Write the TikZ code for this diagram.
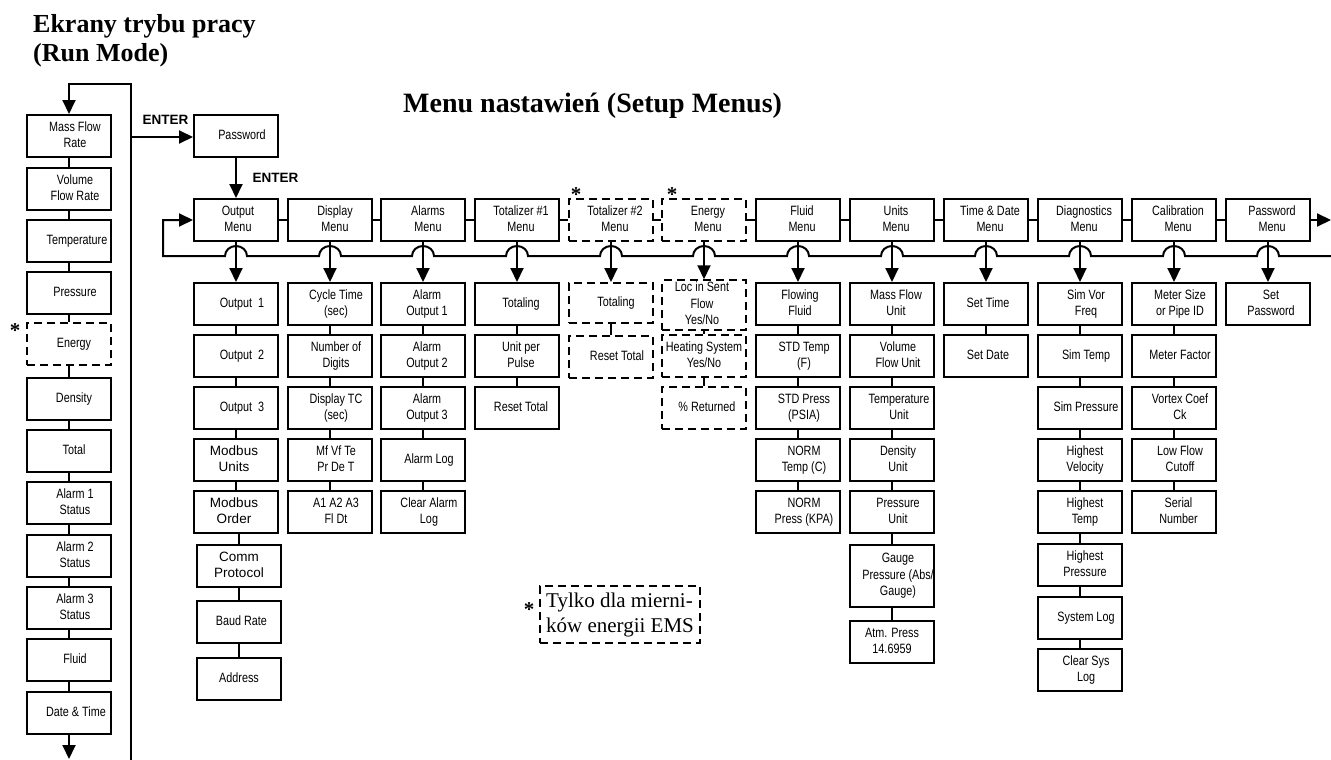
\documentclass[tikz,border=0pt]{standalone}
\usepackage{fontspec}
\setmainfont{Liberation Sans}
\newfontfamily\boxfont{Liberation Sans}[FakeStretch=0.8]
\newfontfamily\headfont{Liberation Serif}
\usetikzlibrary{arrows.meta}

% lines of a box label, set a little right of the box centre by default
\newcommand\celltext[2][12pt]{\hspace*{#1}\begin{tabular}{@{}c@{}}#2\end{tabular}}

\tikzset{
  box/.style={draw, line width=2pt, minimum width=84pt, minimum height=42pt,
    inner sep=0pt, font={\boxfont\fontsize{13.5}{16.5}\selectfont}},
  widebox/.style={box, font={\fontsize{13.5}{16.5}\selectfont}},
  dbox/.style={box, dash pattern=on 8pt off 5pt},
  conn/.style={line width=2pt},
  arr/.style={line width=2pt, -{Triangle[width=13pt,length=14pt]}},
  heading/.style={anchor=base west, inner sep=0pt, font={\headfont\bfseries\fontsize{26}{30}\selectfont}},
  keylabel/.style={inner sep=0pt, font={\bfseries\fontsize{13.5}{16}\selectfont}},
  starmark/.style={inner sep=0pt, font={\headfont\bfseries\fontsize{21}{21}\selectfont}},
}

\begin{document}
\begin{tikzpicture}[x=1pt,y=-1pt]
\useasboundingbox (0,0) rectangle (1331,760);

% headings
\node[heading] (h1) at (33,33) {Ekrany trybu pracy};
\node[heading] (h2) at (33,62) {(Run Mode)};
\node[heading, font={\headfont\bfseries\fontsize{28}{32}\selectfont}] (h3) at (403,112) {Menu nastawień (Setup Menus)};

% run mode screens
\node[box]  (r1)  at (69,136) {\celltext{Mass Flow\\Rate}};
\node[box]  (r2)  at (69,189) {\celltext{Volume\\Flow Rate}};
\node[box]  (r3)  at (69,241) {\celltext[16pt]{Temperature}};
\node[box]  (r4)  at (69,293) {\celltext{Pressure}};
\node[dbox] (r5)  at (69,344) {\celltext[10pt]{Energy}};
\node[box]  (r6)  at (69,399) {\celltext[10pt]{Density}};
\node[box]  (r7)  at (69,451) {\celltext[10pt]{Total}};
\node[box]  (r8)  at (69,503) {\celltext{Alarm 1\\Status}};
\node[box]  (r9)  at (69,556) {\celltext{Alarm 2\\Status}};
\node[box]  (r10) at (69,608) {\celltext{Alarm 3\\Status}};
\node[box]  (r11) at (69,660) {\celltext{Fluid}};
\node[box]  (r12) at (69,713) {\celltext[14pt]{Date \& Time}};
\foreach \a/\b in {r1/r2,r2/r3,r3/r4,r4/r5,r5/r6,r6/r7,r7/r8,r8/r9,r9/r10,r10/r11,r11/r12}
  \draw[conn] (\a.south) -- (\b.north);
\coordinate (rb) at (69,759);
\coordinate (rtop) at (131,84);
\coordinate (rbot) at (131,760);
\draw[arr] (r12.south) -- (rb);
\draw[arr] (rbot) -- (rtop) -- (rtop -| r1) -- (r1.north);

% password entry
\node[box] (pw) at (236,136) {\celltext{Password}};
\coordinate (pwin) at (131,137);
\draw[arr] (pwin) -- (pwin -| pw.west);
\node[keylabel] (en1) at (165.5,120) {ENTER};

% setup menus
\node[box]  (m1)  at (236,220)  {\celltext[4pt]{Output\\Menu}};
\node[box]  (m2)  at (330,220)  {\celltext[10pt]{Display\\Menu}};
\node[box]  (m3)  at (423,220)  {\celltext[10pt]{Alarms\\Menu}};
\node[box]  (m4)  at (517,220)  {\celltext[8pt]{Totalizer \#1\\Menu}};
\node[dbox] (m5)  at (611,220)  {\celltext[8pt]{Totalizer \#2\\Menu}};
\node[dbox] (m6)  at (704,220)  {\celltext[8pt]{Energy\\Menu}};
\node[box]  (m7)  at (798,220)  {\celltext[8pt]{Fluid\\Menu}};
\node[box]  (m8)  at (892,220)  {\celltext[8pt]{Units\\Menu}};
\node[box]  (m9)  at (986,220)  {\celltext[8pt]{Time \& Date\\Menu}};
\node[box]  (m10) at (1080,220) {\celltext[8pt]{Diagnostics\\Menu}};
\node[box]  (m11) at (1174,220) {\celltext[8pt]{Calibration\\Menu}};
\node[box]  (m12) at (1268,220) {\celltext[8pt]{Password\\Menu}};
\foreach \a/\b in {m1/m2,m2/m3,m3/m4,m4/m5,m5/m6,m6/m7,m7/m8,m8/m9,m9/m10,m10/m11,m11/m12}
  \draw[conn] (\a.east) -- (\b.west);
\draw[arr] (pw.south) -- (m1.north);
\node[keylabel] (en2) at (275.5,178) {ENTER};

\node[starmark] (st1) at (576,195) {*};
\node[starmark] (st2) at (672,195) {*};
\node[starmark] (st3) at (15,331) {*};

% loop back from the last menu to the first
\coordinate (outr) at (1331,220);
\draw[arr] (m12.east) -- (outr);
\draw[arr] (1331,256)
  \foreach \c in {1268,1174,1080,986,892,798,704,611,517,423,330,236} {
    -- (\c+11,256) arc[start angle=0, end angle=180, x radius=11pt, y radius=10pt]
  } -- (163,256) -- (163,220) -- (m1.west);

% output menu
\node[box]     (o1) at (236,304) {\celltext{Output\ \ 1}};
\node[box]     (o2) at (236,356) {\celltext{Output\ \ 2}};
\node[box]     (o3) at (236,408) {\celltext{Output\ \ 3}};
\node[widebox] (o4) at (236,460) {\celltext[-4pt]{Modbus\\Units}};
\node[widebox] (o5) at (236,512) {\celltext[-4pt]{Modbus\\Order}};
\node[widebox] (o6) at (239,566) {\celltext[0pt]{Comm\\Protocol}};
\node[box]     (o7) at (239,622) {\celltext[5pt]{Baud Rate}};
\node[box]     (o8) at (239,679) {\celltext[0pt]{Address}};

% display menu
\node[box] (d1) at (330,304) {\celltext{Cycle Time\\(sec)}};
\node[box] (d2) at (330,356) {\celltext{Number of\\Digits}};
\node[box] (d3) at (330,408) {\celltext{Display TC\\(sec)}};
\node[box] (d4) at (330,460) {\celltext{Mf Vf Te\\Pr De T}};
\node[box] (d5) at (330,512) {\celltext{A1 A2 A3\\Fl Dt}};

% alarms menu
\node[box] (a1) at (423,304) {\celltext[8pt]{Alarm\\Output 1}};
\node[box] (a2) at (423,356) {\celltext[8pt]{Alarm\\Output 2}};
\node[box] (a3) at (423,408) {\celltext[8pt]{Alarm\\Output 3}};
\node[box] (a4) at (423,460) {\celltext{Alarm Log}};
\node[box] (a5) at (423,512) {\celltext{Clear Alarm\\Log}};

% totalizer 1
\node[box] (t1) at (517,304) {\celltext[8pt]{Totaling}};
\node[box] (t2) at (517,356) {\celltext[8pt]{Unit per\\Pulse}};
\node[box] (t3) at (517,408) {\celltext[8pt]{Reset Total}};

% totalizer 2
\node[dbox, minimum height=40pt] (u1) at (611,303) {\celltext[10pt]{Totaling}};
\node[dbox] (u2) at (611,357) {\celltext{Reset Total}};

% energy menu
\node[dbox, minimum height=44pt] (e1) at (704,305) {\celltext[-4pt]{Loc in Sent\\Flow\\Yes/No}};
\node[dbox] (e2) at (704,356) {\celltext[0pt]{Heating System\\Yes/No}};
\node[dbox] (e3) at (704,408) {\celltext[6pt]{\% Returned}};

% fluid menu
\node[box] (f1) at (798,304) {\celltext[4pt]{Flowing\\Fluid}};
\node[box] (f2) at (798,356) {\celltext{STD Temp\\(F)}};
\node[box] (f3) at (798,408) {\celltext{STD Press\\(PSIA)}};
\node[box] (f4) at (798,460) {\celltext{NORM\\Temp (C)}};
\node[box] (f5) at (798,512) {\celltext{NORM\\Press (KPA)}};

% units menu
\node[box] (n1) at (892,304) {\celltext[8pt]{Mass Flow\\Unit}};
\node[box] (n2) at (892,356) {\celltext{Volume\\Flow Unit}};
\node[box] (n3) at (892,408) {\celltext[14pt]{Temperature\\Unit}};
\node[box] (n4) at (892,460) {\celltext{Density\\Unit}};
\node[box] (n5) at (892,512) {\celltext{Pressure\\Unit}};
\node[box, minimum height=62pt] (n6) at (892,576) {\celltext{Gauge\\Pressure (Abs/\\Gauge)}};
\node[box] (n7) at (892,642) {\celltext[0pt]{Atm. Press\\14.6959}};

% time and date menu
\node[box] (s1) at (986,304) {\celltext[4pt]{Set Time}};
\node[box] (s2) at (986,356) {\celltext[4pt]{Set Date}};

% diagnostics menu
\node[box] (g1) at (1080,304) {\celltext{Sim Vor\\Freq}};
\node[box] (g2) at (1080,356) {\celltext{Sim Temp}};
\node[box] (g3) at (1080,408) {\celltext{Sim Pressure}};
\node[box] (g4) at (1080,460) {\celltext[10pt]{Highest\\Velocity}};
\node[box] (g5) at (1080,512) {\celltext[10pt]{Highest\\Temp}};
\node[box] (g6) at (1080,565) {\celltext[10pt]{Highest\\Pressure}};
\node[box] (g7) at (1080,618) {\celltext{System Log}};
\node[box] (g8) at (1080,670) {\celltext{Clear Sys\\Log}};

% calibration menu
\node[box] (c1) at (1174,304) {\celltext{Meter Size\\or Pipe ID}};
\node[box] (c2) at (1174,356) {\celltext{Meter Factor}};
\node[box] (c3) at (1174,408) {\celltext{Vortex Coef\\Ck}};
\node[box] (c4) at (1174,460) {\celltext{Low Flow\\Cutoff}};
\node[box] (c5) at (1174,512) {\celltext[9pt]{Serial\\Number}};

% password menu
\node[box] (p1) at (1268,304) {\celltext[6pt]{Set\\Password}};

% menu entries
\foreach \a/\b in {m1/o1,m2/d1,m3/a1,m4/t1,m5/u1,m6/e1,m7/f1,m8/n1,m9/s1,m10/g1,m11/c1,m12/p1}
  \draw[arr] (\a.south) -- (\a.south |- \b.north);

% links inside each menu
\foreach \a/\b in {o1/o2,o2/o3,o3/o4,o4/o5,o5/o6,o6/o7,o7/o8,
                   d1/d2,d2/d3,d3/d4,d4/d5,
                   a1/a2,a2/a3,a3/a4,a4/a5,
                   t1/t2,t2/t3,u1/u2,e1/e2,e2/e3,
                   f1/f2,f2/f3,f3/f4,f4/f5,
                   n1/n2,n2/n3,n3/n4,n4/n5,n5/n6,n6/n7,
                   s1/s2,
                   g1/g2,g2/g3,g3/g4,g4/g5,g5/g6,g6/g7,g7/g8,
                   c1/c2,c2/c3,c3/c4,c4/c5}
  \draw[conn] (\b.north) -- (\b.north |- \a.south);

% footnote
\node[draw, line width=1.5pt, dash pattern=on 8pt off 5pt, minimum width=160pt,
  minimum height=57pt, inner sep=0pt, align=left,
  font={\headfont\fontsize{21}{25}\selectfont}] (fn) at (620,614.5)
  {Tylko dla mierni-\\ków energii EMS};
\node[starmark] (st4) at (529,610) {*};

\end{tikzpicture}
\end{document}
